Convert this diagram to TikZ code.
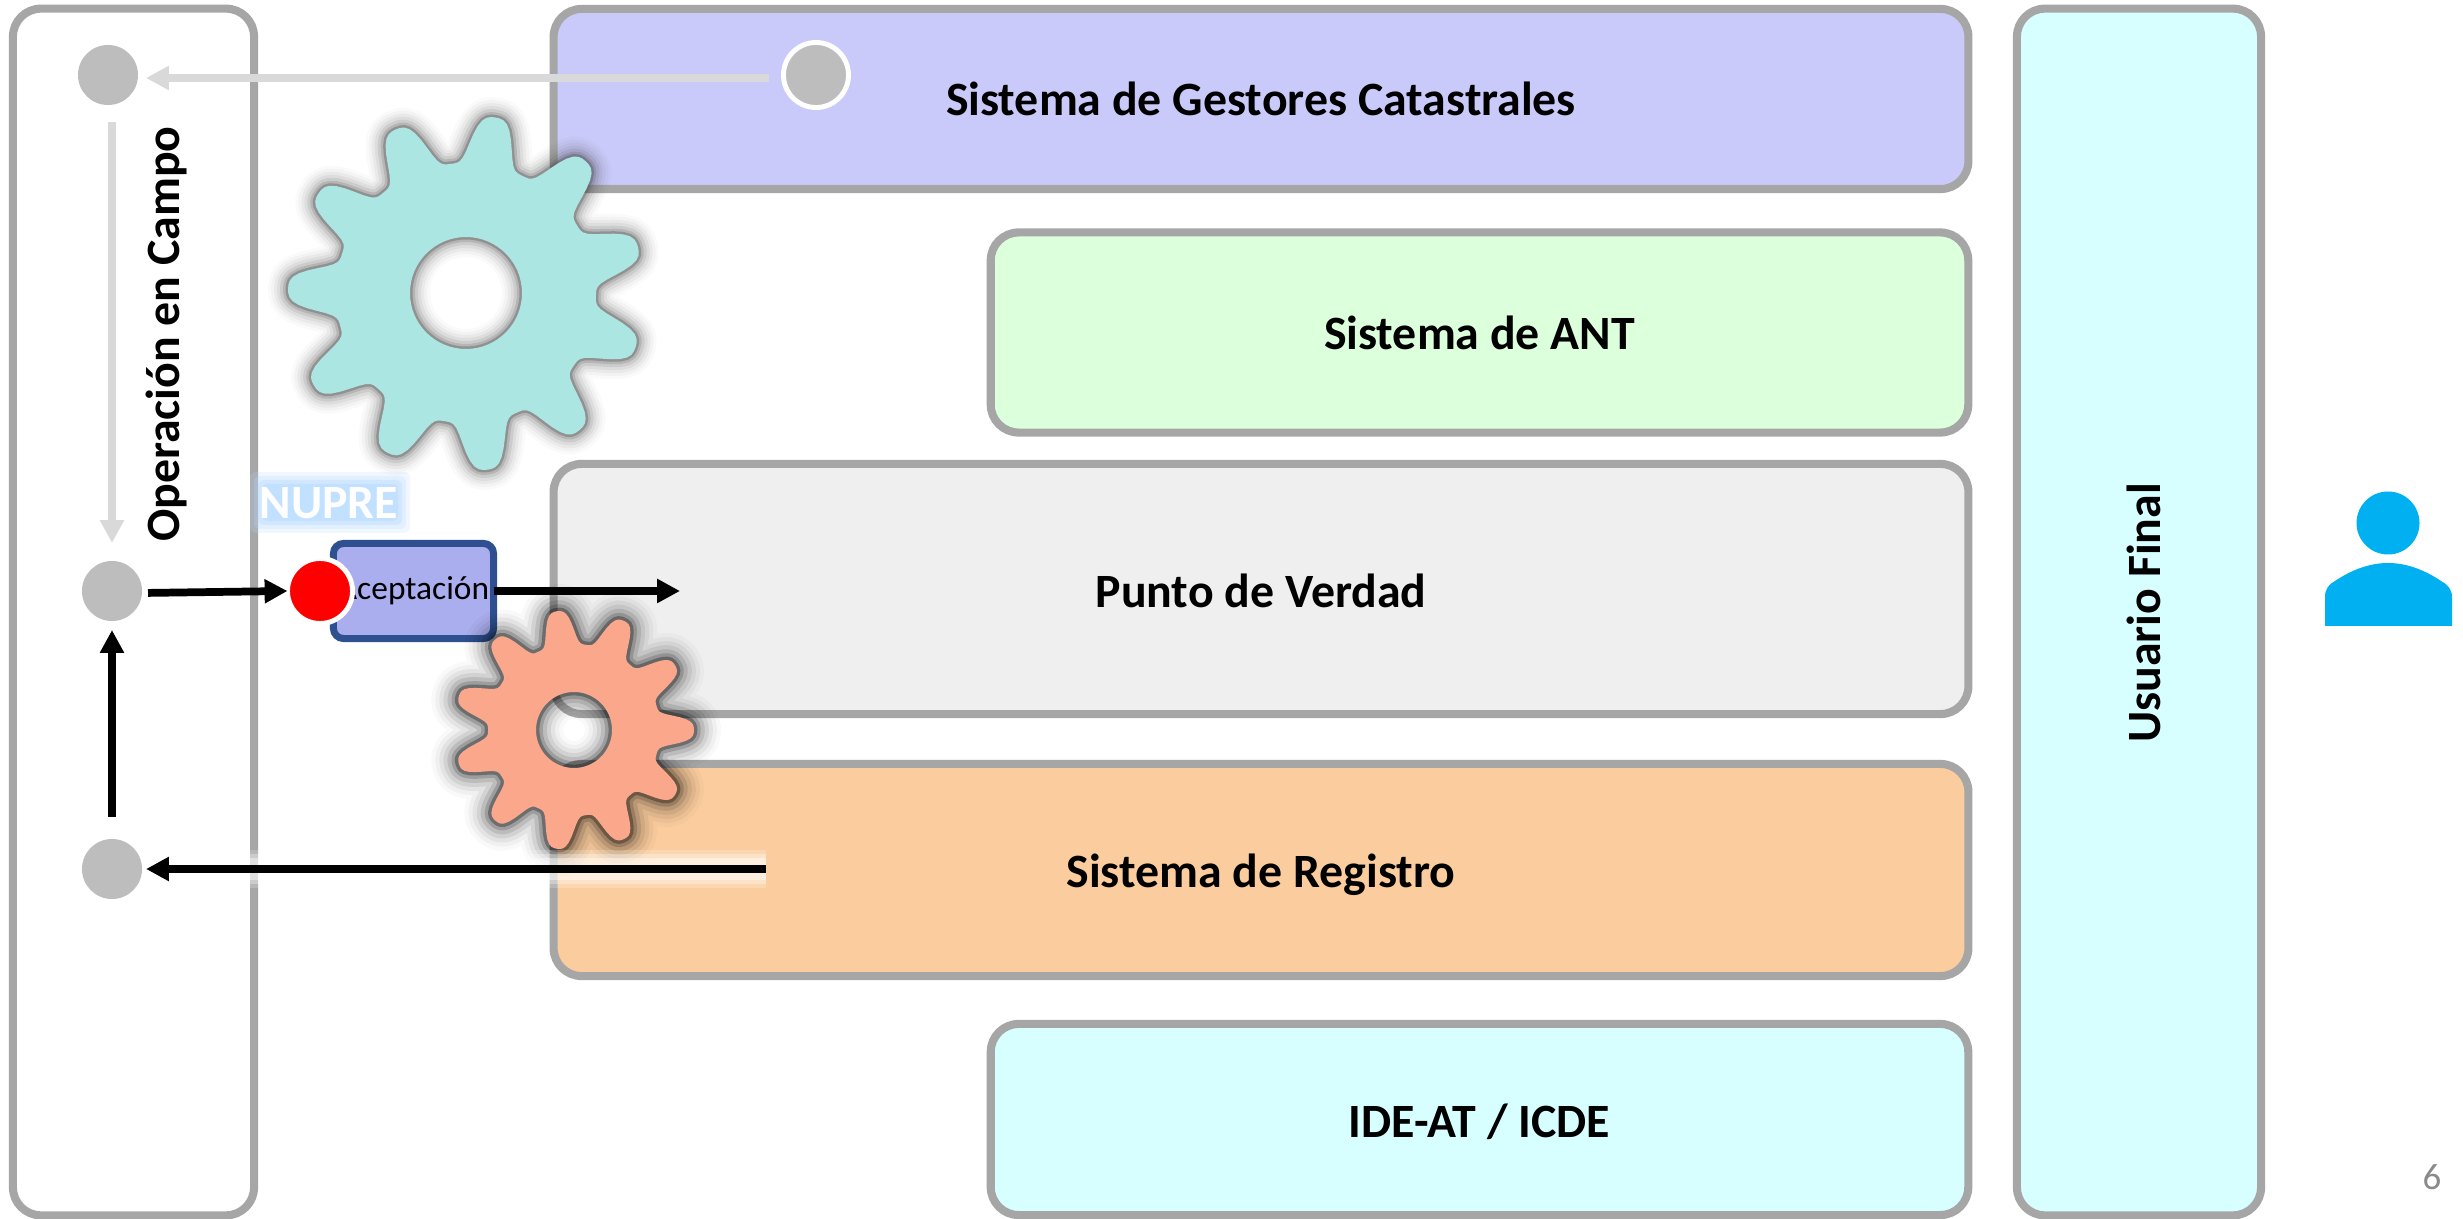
\documentclass[tikz,border=0pt]{standalone}
\usepackage{fontspec}
\setmainfont{Carlito}
\usetikzlibrary{arrows.meta,positioning}

\definecolor{edgegray}{HTML}{A6A6A6}
\definecolor{dotgray}{HTML}{BDBDBD}
\definecolor{lightarrow}{HTML}{D9D9D9}
\definecolor{gestorfill}{HTML}{CACAFA}
\definecolor{antfill}{HTML}{DCFFDC}
\definecolor{verdadfill}{HTML}{EFEFEF}
\definecolor{registrofill}{HTML}{FBCD9E}
\definecolor{usuariofill}{HTML}{D7FFFF}
\definecolor{aceptfill}{HTML}{ABAEEE}
\definecolor{aceptedge}{HTML}{2F5090}
\definecolor{tealgear}{HTML}{ACE6E3}
\definecolor{orangegear}{HTML}{FAA78B}
\definecolor{persona}{HTML}{00B0F0}
\definecolor{nupreglow}{HTML}{B5DAFF}

\tikzset{
  boldtxt/.style={font=\fontsize{13.6}{16}\selectfont\bfseries},
  panel/.style={draw=edgegray, line width=2.3pt, rounded corners=0.28cm, outer sep=0pt,
    inner sep=0pt, boldtxt},
  dot/.style={circle, fill=dotgray, minimum size=0.6cm, inner sep=0pt, outer sep=0pt},
  ringdot/.style={circle, draw=white, line width=1.4pt, minimum size=0.65cm, inner sep=0pt, outer sep=0pt},
  flow/.style={line width=2.2pt, -{Triangle[length=6.5pt,width=6.5pt]}},
  lightflow/.style={flow, draw=lightarrow, -{Triangle[length=6.5pt,width=6.5pt,fill=lightarrow]}},
}

% #1 centre, #2 outer radius, #3 root radius, #4 hole radius, #5 turn, #6 fill, #7 halo colour, #8 halo scale
\newcommand{\gearshape}[8]{
  \begin{scope}[shift={#1}]
    \def\gearline{plot[domain=0:360,samples=265,variable=\t]
      (\t:{#3+(#2-#3)*(0.5+0.5*(1.1*cos(11*(\t-(#5)))-0.1*cos(33*(\t-(#5)))))^1.25}) -- cycle
      (0,0) circle[radius=#4]}
    \foreach \w/\o in {40/.025,34/.035,28/.05,22/.07,16/.1,10/.16,5/.3}
      \draw[#7, line width=#8*\w*0.2845pt, opacity=\o, line join=round] \gearline;
    \fill[#6, even odd rule] \gearline;
  \end{scope}
}

\begin{document}
\begin{tikzpicture}[x=0.01cm,y=-0.01cm]
  \fill[white] (0,0) rectangle (2463,1219);
  \useasboundingbox (0,0) rectangle (2463,1219);

  %% Columns and system boxes
  \node[panel, fill=white, minimum width=2.41cm, minimum height=12.06cm] (campo) at (133.5,612) {};
  \node[panel, fill=gestorfill, minimum width=14.14cm, minimum height=1.8cm] (gestores) at (1261,99) {Sistema de Gestores Catastrales};
  \node[panel, fill=antfill, minimum width=9.77cm, minimum height=2cm] (ant) at (1479.5,332.5) {Sistema de ANT};
  \node[panel, fill=verdadfill, minimum width=14.14cm, minimum height=2.5cm] (verdad) at (1261,589) {};
  \node[panel, fill=registrofill, minimum width=14.14cm, minimum height=2.12cm] (registro) at (1261,870) {};
  \node[panel, fill=usuariofill, minimum width=9.77cm, minimum height=1.91cm] (ide) at (1479.5,1119.5) {};
  \node[panel, fill=usuariofill, minimum width=2.44cm, minimum height=12.06cm] (usuario) at (2139,612) {};

  %% Labels
  \node[boldtxt] (verdadtxt) at (1261,591) {Punto de Verdad};
  \node[boldtxt] (registrotxt) at (1261,875) {Sistema de Registro};
  \node[boldtxt] (idetxt) at (1479.5,1122) {IDE-AT / ICDE};
  \node[boldtxt, rotate=90] (usuariotxt) at (2144,613) {Usuario Final};
  \node[boldtxt, rotate=90] (campotxt) at (166,334) {Operación en Campo};

  %% NUPRE tag
  \foreach \g/\o in {12/.2,8/.25,4/.35,0/.5}
    \fill[nupreglow, opacity=\o, rounded corners=0.06cm] (262-\g,484-\g) rectangle (398+\g,521+\g);
  \node[text=white, font=\fontsize{13.6}{16}\selectfont\bfseries] (nupre) at (329,503) {NUPRE};

  %% Acceptance step
  \node[draw=aceptedge, fill=aceptfill, line width=2pt, rounded corners=0.1cm, outer sep=0pt,
    minimum width=1.6cm, minimum height=0.95cm, inner sep=0pt, font=\fontsize{9.5}{12}\selectfont] (aceptacion) at (413.5,591) {Aceptación};

  %% Gears
  \gearshape{(466,293)}{178}{130}{56}{-15}{tealgear}{black!75}{1}
  \gearshape{(574,730)}{120}{86}{38}{0}{orangegear}{black}{1.35}

  %% Dots
  \node[dot] (campoa) at (108,75) {};
  \node[dot] (campob) at (112,591) {};
  \node[dot] (campoc) at (112,869) {};
  \node[ringdot, fill=dotgray] (gestor) at (816,75) {};
  \node[ringdot, fill=red] (rojo) at (320,591) {};
  \coordinate (verdadin) at (680,591);
  \coordinate (registroout) at (766,869);

  %% Halo under the dark arrow out of the register box
  \foreach \w/\o in {38/.2,30/.3,22/.4}
    \draw[white, line width=\w*0.2845pt, opacity=\o] (registroout) -- (campoc.east);

  %% Flows
  \draw[lightflow, shorten <=0.14cm, shorten >=0.08cm] ([yshift=-0.03cm]gestor.west) -- ([yshift=-0.03cm]campoa.east);
  \draw[lightflow, line width=2pt, shorten <=0.17cm, shorten >=0.18cm] (campob |- campoa.south) -- (campob.north);
  \draw[flow, shorten <=0.06cm] ([yshift=-0.02cm]campob.east) -- (rojo.west);
  \draw[flow] (aceptacion.east) -- (verdadin);
  \draw[flow, line width=2pt, shorten <=0.22cm, shorten >=0.09cm] (campoc.north) -- (campob.south);
  \draw[flow, shorten >=0.04cm] (registroout) -- (campoc.east);

  %% User icon
  \fill[persona] (2388,523) circle[radius=31.5];
  \fill[persona] (2325,626) -- (2325,597) .. controls (2325,589) and (2329,584) .. (2335,581)
    .. controls (2350,571) and (2368,563) .. (2388,563)
    .. controls (2408,563) and (2426,571) .. (2441,581)
    .. controls (2447,584) and (2452,589) .. (2452,597) -- (2452,626) -- cycle;

  %% Page number
  \node[text=black!46, font=\fontsize{10.5}{12}\selectfont] (pagina) at (2432,1177) {6};
\end{tikzpicture}
\end{document}
